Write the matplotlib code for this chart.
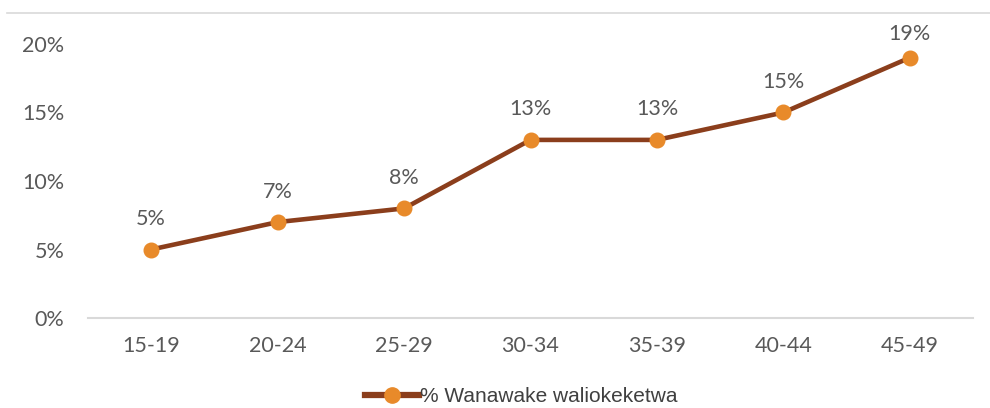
import matplotlib
matplotlib.use("Agg")
import matplotlib.pyplot as plt
from matplotlib.lines import Line2D
from matplotlib.ticker import FuncFormatter

categories = ["15-19", "20-24", "25-29", "30-34", "35-39", "40-44", "45-49"]
values = [5, 7, 8, 13, 13, 15, 19]
yticks = [0, 5, 10, 15, 20]
series_name = "% Wanawake waliokeketwa"

line_color = "#8B3E1C"
marker_color = "#E88A2A"
text_color = "#595959"
tick_font = "Lato"

fig = plt.figure(figsize=(9.9, 4.08), dpi=100)
ax = fig.add_axes([88/990, 1-318/408, (973-88)/990, (318-44)/408])

x = list(range(len(categories)))
ax.plot(x, values, color=line_color, lw=3.3, marker="o", markersize=10.5,
        markerfacecolor=marker_color, markeredgecolor=marker_color, zorder=3,
        solid_capstyle="round")

for xi, v in zip(x, values):
    off = 17 if v >= 19 else 22
    ax.annotate(f"{v}%", (xi, v), xytext=(0, off), textcoords="offset points",
                ha="center", va="center", fontsize=15.5, color=text_color, family=tick_font)

ax.set_xlim(-0.5, len(categories) - 0.5)
ax.set_ylim(0, 20)
ax.set_yticks(yticks)
ax.yaxis.set_major_formatter(FuncFormatter(lambda v, p: f"{int(v)}%"))
ax.set_xticks(x)
ax.set_xticklabels(categories)
for s in ["top", "right", "left"]:
    ax.spines[s].set_visible(False)
ax.spines["bottom"].set_color("#D9D9D9")
ax.spines["bottom"].set_linewidth(1.5)
ax.tick_params(axis="both", length=0, labelsize=15.5, labelcolor=text_color)
ax.tick_params(axis="y", pad=17)
ax.tick_params(axis="x", pad=13)
for lab in ax.get_xticklabels() + ax.get_yticklabels():
    lab.set_family(tick_font)

fig.add_artist(Line2D([7/990, 1], [1-13/408, 1-13/408], color="#D9D9D9", lw=1.2,
                      transform=fig.transFigure))

handle = Line2D([], [], color=line_color, lw=4.5, marker="o", markersize=11,
                markerfacecolor=marker_color, markeredgecolor=marker_color)
fig.legend([handle], [series_name], loc="center", bbox_to_anchor=(521/990, 1-397/408),
           frameon=False, prop={"family": "Liberation Sans", "size": 15},
           labelcolor="#404040", handlelength=2.6, handletextpad=0.05)

fig.savefig("out.png", dpi=100)
